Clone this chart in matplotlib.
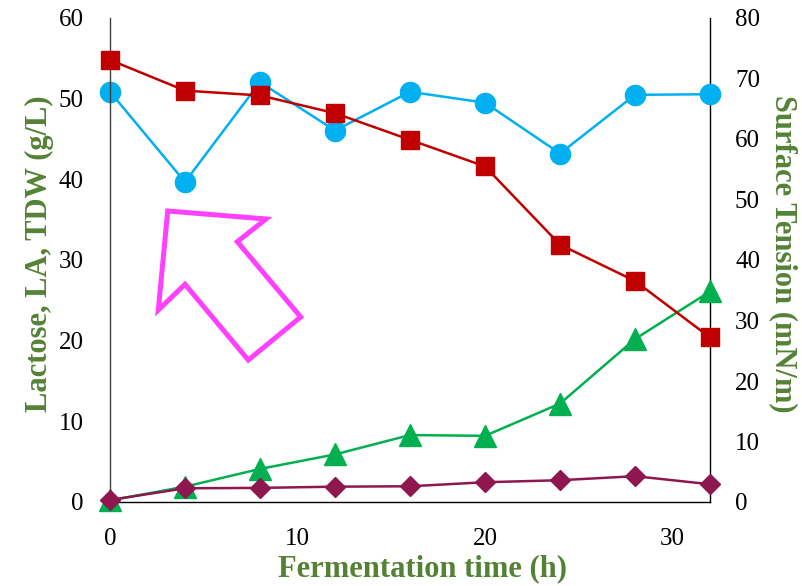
import matplotlib
matplotlib.use("Agg")
import matplotlib.pyplot as plt
from matplotlib.patches import Polygon

# ---- data ----
time_h = [0, 4, 8, 12, 16, 20, 24, 28, 32]
lactose = [54.8, 51.0, 50.4, 48.2, 44.9, 41.6, 31.9, 27.4, 20.4]
la = [0.2, 1.9, 4.1, 5.9, 8.3, 8.2, 12.2, 20.2, 26.1]
tdw = [0.25, 1.7, 1.75, 1.9, 1.95, 2.45, 2.7, 3.2, 2.2]
surface_tension = [67.8, 52.9, 69.4, 61.4, 67.8, 66.0, 57.6, 67.3, 67.4]

x_ticks = [0, 10, 20, 30]
left_ticks = [0, 10, 20, 30, 40, 50, 60]
right_ticks = [0, 10, 20, 30, 40, 50, 60, 70, 80]

# ---- style ----
W, H = 802, 586
plt.rcParams['font.family'] = ['Liberation Serif', 'DejaVu Serif']
label_color = '#548235'
c_red = '#C00000'
c_blue = '#00B0F0'
c_green = '#00B050'
c_maroon = '#8E1750'

fig = plt.figure(figsize=(W / 100, H / 100), dpi=100)
L, R, T, B = 110, 710, 18, 502
ax = fig.add_axes([L / W, 1 - B / H, (R - L) / W, (B - T) / H])
ax2 = ax.twinx()

lw = 1.8
ax.plot(time_h, lactose, color=c_red, marker='s', markersize=13.5, lw=lw, zorder=3)
ax.plot(time_h, la, color=c_green, marker='^', markersize=15.5, lw=lw, zorder=2)
ax.plot(time_h, tdw, color=c_maroon, marker='D', markersize=10.5, lw=lw, zorder=4)
ax2.plot(time_h, surface_tension, color=c_blue, marker='o', markersize=14.5, lw=lw, zorder=5)

ax.set_xlim(0, 32)
ax.set_ylim(0, 60)
ax2.set_ylim(0, 80)
ax.set_xticks(x_ticks)
ax.set_yticks(left_ticks)
ax2.set_yticks(right_ticks)

for a in (ax, ax2):
    a.spines['top'].set_visible(False)
    for s in a.spines.values():
        s.set_linewidth(1.0)
        s.set_clip_on(False)
ax.spines['right'].set_visible(False)
ax2.spines['left'].set_visible(False)
ax2.spines['bottom'].set_visible(False)
ax.spines['left'].set_color('#404040')
ax.spines['bottom'].set_color('black')
ax2.spines['right'].set_color('black')
for line in ax.lines + ax2.lines:
    line.set_clip_on(False)

ax.tick_params(axis='both', length=0, labelsize=18, colors='black')
ax.tick_params(axis='y', pad=19)
ax.tick_params(axis='x', pad=19)
ax2.tick_params(axis='y', length=0, labelsize=18, pad=18, colors='black')
ax.set_zorder(ax2.get_zorder() + 1)
ax.patch.set_visible(False)

# axis titles
fig.text(423 / W, 1 - 569 / H, 'Fermentation time (h)', ha='center', va='center',
         fontsize=22, fontweight='bold', color=label_color)
fig.text(39 / W, 1 - 254 / H, 'Lactose, LA, TDW (g/L)', ha='center', va='center',
         rotation=90, fontsize=22, fontweight='bold', color=label_color)
fig.text(783 / W, 1 - 254 / H, 'Surface Tension (mN/m)', ha='center', va='center',
         rotation=270, fontsize=22, fontweight='bold', color=label_color)

# magenta block-arrow annotation (figure pixel coordinates)
arrow_px = [(167.7, 211), (266, 219), (237.3, 241.7), (300.7, 317),
            (248.3, 360), (185, 284.3), (158.3, 310)]
arrow = Polygon([(x / W, 1 - y / H) for x, y in arrow_px], closed=True,
                fill=False, edgecolor='#FF40FF', linewidth=3.6,
                joinstyle='miter', transform=fig.transFigure)
fig.patches.append(arrow)

fig.savefig('out.png', dpi=100)
